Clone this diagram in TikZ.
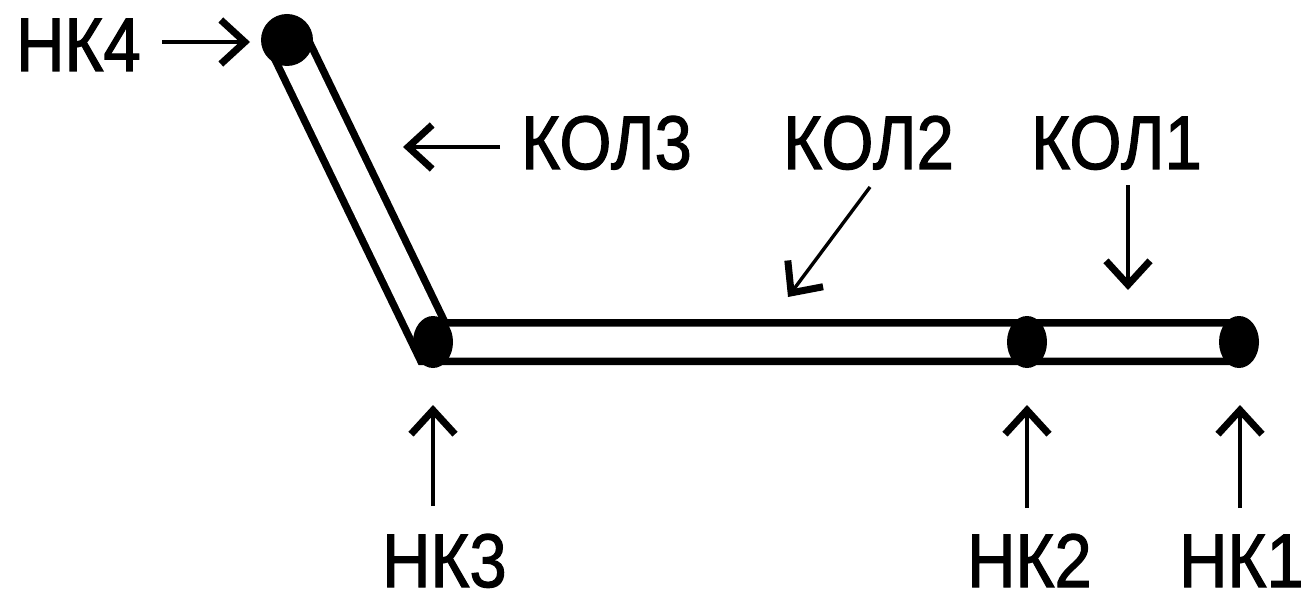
\documentclass[tikz,border=0pt]{standalone}
\usepackage{graphicx}
\usepackage{fontspec}
\setmainfont{Liberation Sans}
\newfontfamily\lblfont[FakeBold=1.6]{Liberation Sans}
\usetikzlibrary{arrows.meta,shapes.geometric}
% narrow the label lettering a little
\newcommand\narrowlbl[1]{\scalebox{0.88}[1]{#1}}
\begin{document}
\begin{tikzpicture}[x=1pt,y=-1pt,
  lbl/.style={font=\lblfont\fontsize{76}{76}\selectfont, inner sep=0pt, anchor=base west},
  ptr/.style={line width=3.4pt, -{Straight Barb[length=24pt,width=44pt,line width=7pt]}},
  joint/.style={ellipse, fill=black, minimum width=40pt, minimum height=52pt, inner sep=0pt},
  endjoint/.style={circle, fill=black, minimum size=52pt, inner sep=0pt},
  pipe/.style={line width=7.5pt, double distance=31pt, line join=miter}]
\useasboundingbox (0,0) rectangle (1305,604);

% pipe run: sloped section then the straight section
\coordinate (p4) at (287,40);
\coordinate (p3) at (433,342);
\coordinate (p2) at (1027,342);
\coordinate (p1) at (1239,342);
\draw[pipe] (p4) -- (p3) -- (p1);

% junction points
\node[endjoint] (n4) at (p4) {};
\node[joint] (n3) at (p3) {};
\node[joint] (n2) at (p2) {};
\node[joint] (n1) at (p1) {};

% labels
\node[lbl] (l4) at (16,71) {\narrowlbl{НК4}};
\node[lbl] (l3) at (382,587) {\narrowlbl{НК3}};
\node[lbl] (l2) at (967,587) {\narrowlbl{НК2}};
\node[lbl] (l1) at (1179,587) {\narrowlbl{НК1}};
\node[lbl] (k3) at (521,169) {\narrowlbl{КОЛ3}};
\node[lbl] (k2) at (783,169) {\narrowlbl{КОЛ2}};
\node[lbl] (k1) at (1031,169) {\narrowlbl{КОЛ1}};

% pointer ends
\coordinate (a4s) at (162,42);  \coordinate (a4e) at (250,42);
\coordinate (b3s) at (500,147); \coordinate (b3e) at (403,147);
\coordinate (b2s) at (870,187); \coordinate (b2e) at (788,297);
\coordinate (b1s) at (1128,185); \coordinate (b1e) at (1128,290);
\coordinate (a3s) at (433,506); \coordinate (a3e) at (433,405);
\coordinate (a2s) at (1027,508); \coordinate (a2e) at (1027,405);
\coordinate (a1s) at (1240,508); \coordinate (a1e) at (1240,405);

\draw[ptr] (a4s) -- (a4e);
\draw[ptr] (b3s) -- (b3e);
\draw[ptr] (b2s) -- (b2e);
\draw[ptr] (b1s) -- (b1e);
\draw[ptr] (a3s) -- (a3e);
\draw[ptr] (a2s) -- (a2e);
\draw[ptr] (a1s) -- (a1e);
\end{tikzpicture}
\end{document}
